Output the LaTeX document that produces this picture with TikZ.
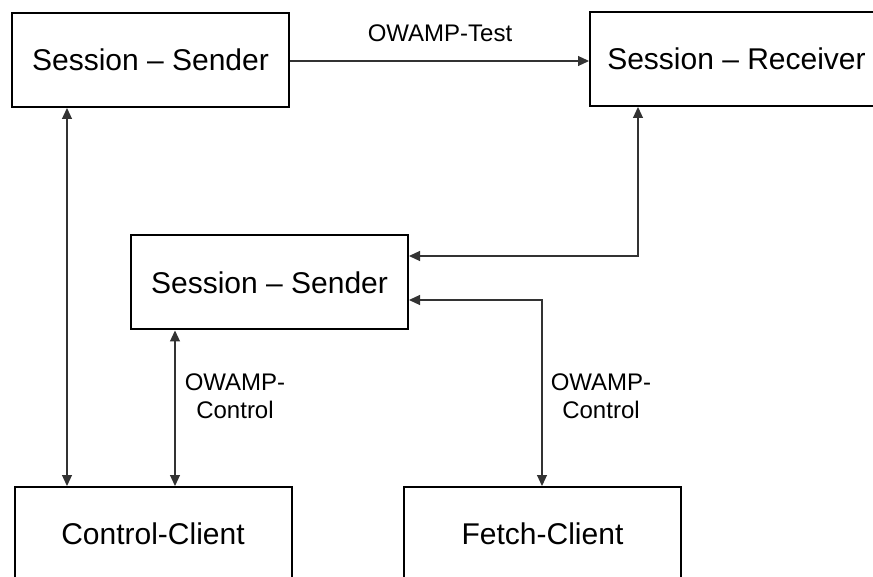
\documentclass[tikz,border=0pt]{standalone}
\usepackage{fontspec}
\setmainfont{Liberation Sans}
\usetikzlibrary{arrows.meta}
\begin{document}
\begin{tikzpicture}[x=1pt,y=-1pt,
  box/.style={draw=black,line width=2pt,fill=white,minimum width=277pt,minimum height=94pt,inner sep=0pt,
    font=\fontsize{30}{36}\selectfont},
  conn/.style={draw=black!80,line width=1.1pt},
  tip/.style={-{Triangle[length=11pt,width=10pt]}},
  both/.style={{Triangle[length=11pt,width=10pt]}-{Triangle[length=11pt,width=10pt]}},
  lbl/.style={font=\fontsize{24}{28}\selectfont,align=center,inner sep=0pt}]
\useasboundingbox (0,0) rectangle (873,577);
\clip (0,0) rectangle (873,577);
\fill[white] (0,0) rectangle (873,577);
% nodes
\node[box] (s1) at (150.5,60) {Session -- Sender};
\node[box,minimum width=293pt] (rcv) at (736.5,59) {Session -- Receiver};
\node[box] (s2) at (269.5,282.5) {Session -- Sender};
\node[box] (cc) at (153,534) {Control-Client};
\node[box] (fc) at (542.5,534) {Fetch-Client};
% labels
\node[lbl] (t1) at (440,33) {OWAMP-Test};
\node[lbl] (t2) at (235,396) {OWAMP-\\Control};
\node[lbl] (t3) at (601,396) {OWAMP-\\Control};
% helper coordinates
\coordinate (xa) at (67,0);
\coordinate (xb) at (175,0);
\coordinate (xr) at (638,0);
\coordinate (xf) at (542,0);
\coordinate (ya) at (0,256);
\coordinate (yb) at (0,300);
\coordinate (yt) at (0,61);
\coordinate (c1) at (638,256);
\coordinate (c2) at (542,300);
% connectors
\draw[conn,tip] (s1.east |- yt) -- (rcv.west |- yt);
\draw[conn,both] (xa |- s1.south) -- (xa |- cc.north);
\draw[conn,both] (xb |- s2.south) -- (xb |- cc.north);
\draw[conn,both] (xr |- rcv.south) -- (c1) -- (s2.east |- ya);
\draw[conn,both] (xf |- fc.north) -- (c2) -- (s2.east |- yb);
\end{tikzpicture}
\end{document}
